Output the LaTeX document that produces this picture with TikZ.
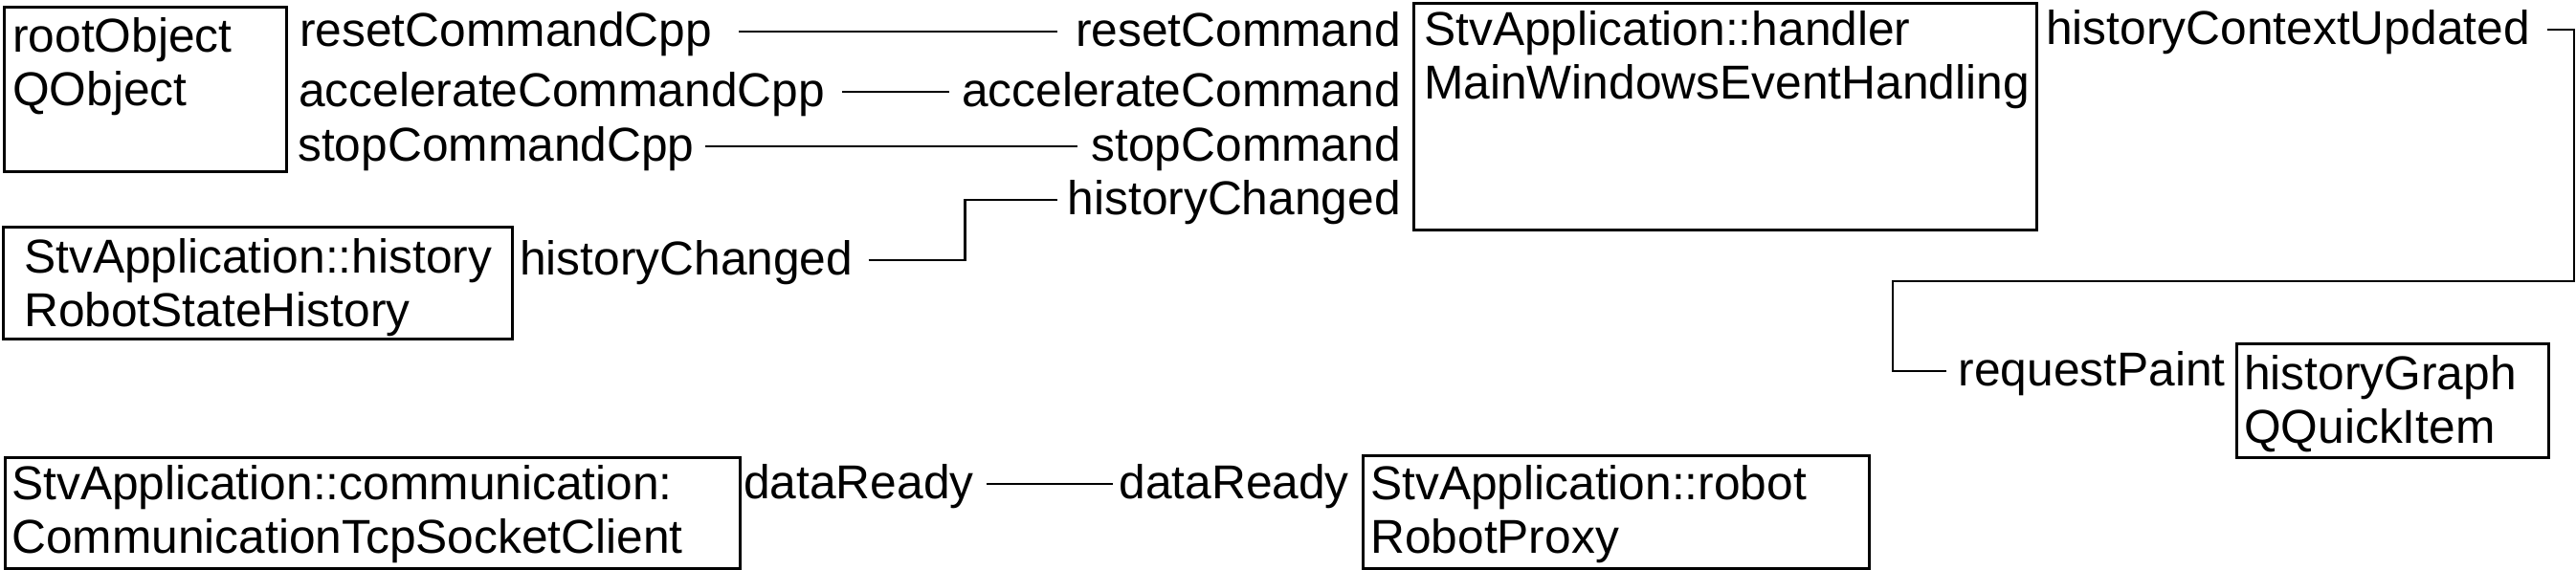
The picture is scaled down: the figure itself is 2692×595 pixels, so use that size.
\documentclass[tikz,border=0pt]{standalone}
\usepackage{fontspec}
\setmainfont{Liberation Sans}
\newcommand{\twolines}[2]{\begin{tabular}[t]{@{}l@{}}#1\\#2\end{tabular}}

\begin{document}
\begin{tikzpicture}[
        x=1pt, y=-1pt,
        every node/.style={font=\fontsize{49.7pt}{56.5pt}\selectfont},
        objbox/.style={draw, line width=2.5pt, rectangle, inner sep=0pt, anchor=north west},
        objtext/.style={anchor=base west, inner sep=0pt},
        port/.style={inner sep=0pt, text height=36pt, text depth=6pt},
        wire/.style={line width=2.5pt}
    ]
    \useasboundingbox (0,0) rectangle (2692,595);

    \node[objbox, minimum width=295pt, minimum height=172pt] (root) at (3,6) {};
    \node[objbox, minimum width=651pt, minimum height=237pt] (handler) at (1476,2) {};
    \node[objbox, minimum width=532pt, minimum height=117pt] (history) at (2,236) {};
    \node[objbox, minimum width=326pt, minimum height=119pt] (graph) at (2336,358) {};
    \node[objbox, minimum width=768pt, minimum height=116pt] (comm) at (4,477) {};
    \node[objbox, minimum width=529pt, minimum height=118pt] (robot) at (1423,475) {};

    \node[objtext] (rootText) at (13,54) {\twolines{rootObject}{QObject}};
    \node[objtext] (handlerText) at (1488,47) {\twolines{StvApplication::handler}{MainWindowsEventHandling}};
    \node[objtext] (historyText) at (25,285) {\twolines{StvApplication::history}{RobotStateHistory}};
    \node[objtext] (graphText) at (2345,407) {\twolines{historyGraph}{QQuickItem}};
    \node[objtext] (commText) at (12,522) {\twolines{StvApplication::communication:}{CommunicationTcpSocketClient}};
    \node[objtext] (robotText) at (1432,522) {\twolines{StvApplication::robot}{RobotProxy}};

    \node[port, anchor=west] (resetCpp) at (313,33) {resetCommandCpp};
    \node[port, anchor=west] (accelCpp) at (312,96) {accelerateCommandCpp};
    \node[port, anchor=west] (stopCpp) at (311,153) {stopCommandCpp};
    \node[port, anchor=east] (reset) at (1464,33) {resetCommand};
    \node[port, anchor=east] (accel) at (1464,96) {accelerateCommand};
    \node[port, anchor=east] (stop) at (1464,153) {stopCommand};
    \node[port, anchor=east] (histChangedIn) at (1464,209) {historyChanged};
    \node[port, anchor=west] (histChangedOut) at (543,272) {historyChanged};
    \node[port, anchor=west] (contextUpdated) at (2138,31) {historyContextUpdated};
    \node[port, anchor=east] (requestPaint) at (2326,388) {requestPaint};
    \node[port, anchor=west] (dataOut) at (777,506) {dataReady};
    \node[port, anchor=east] (dataIn) at (1410,506) {dataReady};

    \coordinate (turn) at (1978,294);

    \draw[wire, shorten <=28pt, shorten >=19pt] (resetCpp.east) -- (reset.west);
    \draw[wire, shorten <=18pt, shorten >=13pt] (accelCpp.east) -- (accel.west);
    \draw[wire, shorten <=11pt, shorten >=14pt] (stopCpp.east) -- (stop.west);
    \draw[wire, shorten <=16pt, shorten >=10pt] (histChangedOut.east) -- ++(117,0) |- (histChangedIn.west);
    \draw[wire, shorten <=18pt, shorten >=13pt] (contextUpdated.east) -- ++(46,0) |- (turn) |- (requestPaint.west);
    \draw[wire, shorten <=13pt, shorten >=6pt] (dataOut.east) -- (dataIn.west);
\end{tikzpicture}
\end{document}
